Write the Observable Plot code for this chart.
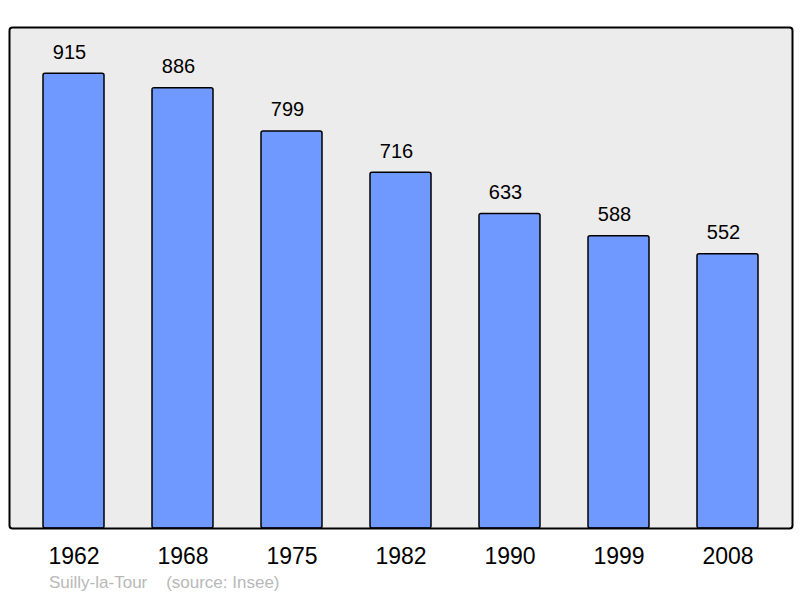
<!DOCTYPE html>
<html>
<head>
<meta charset="utf-8">
<script src="https://cdn.jsdelivr.net/npm/d3@7"></script>
<script src="https://cdn.jsdelivr.net/npm/@observablehq/plot@0.6"></script>
<style>
  html, body { margin: 0; padding: 0; background: #fff; }
  #wrap { position: relative; width: 800px; height: 598px; font-family: "Liberation Sans", Arial, sans-serif; }
  #caption { position: absolute; left: 49px; top: 573px; font-size: 17px; color: #b8b8b8; white-space: pre; }
</style>
</head>
<body>
<div id="wrap"><div id="chart"></div><div id="caption">Suilly-la-Tour    (source: Insee)</div></div>
<script>
const years = ["1962", "1968", "1975", "1982", "1990", "1999", "2008"];
const population = [915, 886, 799, 716, 633, 588, 552];

const data = years.map((y, i) => ({year: y, pop: population[i]}));

const chart = Plot.plot({
  width: 800,
  height: 598,
  marginTop: 27,
  marginBottom: 70,
  marginLeft: 9,
  marginRight: 8,
  style: {fontFamily: "Liberation Sans, Arial, sans-serif", background: "#fff"},
  x: {domain: years, paddingInner: 0.44, paddingOuter: 0.3, label: null},
  y: {domain: [0, 1008], axis: null},
  marks: [
    Plot.frame({fill: "#ececec", stroke: "none"}),
    Plot.barY(data, {x: "year", y: "pop", fill: "#7099ff", stroke: "#000", strokeWidth: 1.5, rx: 2}),
    Plot.text(data, {x: "year", y: "pop", text: d => String(d.pop), dx: -4.5, dy: -15, lineAnchor: "bottom", fontSize: 20, fill: "#000"}),
    Plot.frame({stroke: "#000", strokeWidth: 2, rx: 3}),
    Plot.axisX({tickSize: 0, tickPadding: 19, fontSize: 23, label: null, color: "#000"})
  ]
});
document.getElementById("chart").appendChild(chart);
</script>
</body>
</html>
